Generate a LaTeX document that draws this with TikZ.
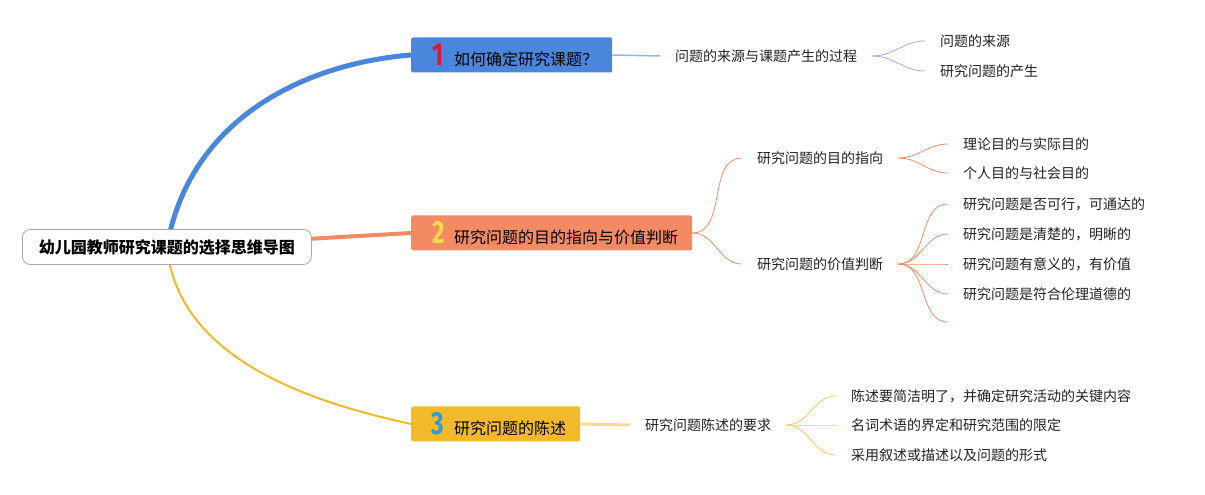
\documentclass[tikz,border=0pt]{standalone}
\usepackage{fontspec}
\setmainfont{Noto Sans CJK SC}
\newfontfamily\numfont{Fira Sans}
\usetikzlibrary{backgrounds}
\definecolor{topicblue}{HTML}{4A86DB}
\definecolor{topicorange}{HTML}{F28B63}
\definecolor{topicyellow}{HTML}{F2B92B}
\definecolor{lightblue}{HTML}{8FB4EA}
\definecolor{lightyellow}{HTML}{F8DA8A}
\definecolor{forkyellow}{HTML}{F5C85E}
\definecolor{numred}{HTML}{D8173B}
\definecolor{numyellow}{HTML}{F9D84A}
\definecolor{numblue}{HTML}{2D9CDB}
\definecolor{textgray}{HTML}{222222}
\newcommand{\topicnum}[2]{\makebox[12pt]{\textcolor{#1}{\scalebox{0.75}[1]{\numfont\bfseries\fontsize{32}{32}\selectfont #2}}}}

\begin{document}
\begin{tikzpicture}[x=1pt,y=1pt,
    rootbox/.style={draw=gray!70, line width=0.8pt, rounded corners=8pt, fill=white,
        minimum width=289pt, minimum height=35pt, inner sep=0pt,
        font=\bfseries\fontsize{16}{16}\selectfont, anchor=west},
    topicbox/.style={fill=#1, rounded corners=2pt, minimum height=35pt,
        inner xsep=14pt, inner ysep=0pt, font=\fontsize{16}{16}\selectfont, anchor=west},
    leaf/.style={inner xsep=15pt, inner ysep=2pt, text=textgray,
        font=\fontsize{14}{14}\selectfont, anchor=west},
    fork/.style={out=0, in=180}]

    \useasboundingbox (0,0) rectangle (1205,495);

    \coordinate (pr) at (22,248);
    \coordinate (p1) at (411,440);
    \coordinate (p2) at (411,262);
    \coordinate (p3) at (411,71);

    \node[rootbox] (root) at (pr) {幼儿园教师研究课题的选择思维导图};
    \node[topicbox=topicblue] (t1) at (p1)
        {\hspace{7pt}\topicnum{numred}{1}\hspace{10pt}如何确定研究课题？};
    \node[topicbox=topicorange] (t2) at (p2)
        {\hspace{7pt}\topicnum{numyellow}{2}\hspace{10pt}研究问题的目的指向与价值判断};
    \node[topicbox=topicyellow] (t3) at (p3)
        {\hspace{7pt}\topicnum{numblue}{3}\hspace{10pt}研究问题的陈述};

    % topic 1
    \node[leaf] (a) at (660,439) {问题的来源与课题产生的过程};
    \node[leaf] (a1) at (925,454) {问题的来源};
    \node[leaf] (a2) at (925,424) {研究问题的产生};

    % topic 2
    \node[leaf] (b) at (742,337) {研究问题的目的指向};
    \node[leaf] (b1) at (948,351) {理论目的与实际目的};
    \node[leaf] (b2) at (948,322) {个人目的与社会目的};
    \node[leaf] (c) at (742,231) {研究问题的价值判断};
    \node[leaf] (c1) at (948,291) {研究问题是否可行，可通达的};
    \node[leaf] (c2) at (948,261) {研究问题是清楚的，明晰的};
    \node[leaf] (c3) at (948,231) {研究问题有意义的，有价值};
    \node[leaf] (c4) at (948,201) {研究问题是符合伦理道德的};
    \coordinate (c5) at (948,173);

    % topic 3
    \node[leaf] (d) at (630,70) {研究问题陈述的要求};
    \node[leaf] (d1) at (836,99) {陈述要简洁明了，并确定研究活动的关键内容};
    \node[leaf] (d2) at (836,70) {名词术语的界定和研究范围的限定};
    \node[leaf] (d3) at (836,40) {采用叙述或描述以及问题的形式};

    \begin{scope}[on background layer]
        \draw[topicblue, line width=5pt]
            (root.center) .. controls (190,380) and (310,432) .. (t1.west);
        \draw[topicorange, line width=4pt] (root.center) -- (t2.west);
        \draw[topicyellow, line width=2pt]
            (root.center) .. controls (178,140) and (300,95) .. (t3.west);
    \end{scope}

    \draw[lightblue, line width=1.5pt] (t1.east) -- (a.west);
    \foreach \leafname in {a1,a2}
        \draw[lightblue, line width=0.8pt] (a.east) to[fork] (\leafname.west);

    \foreach \leafname in {b,c}
        \draw[topicorange, line width=0.8pt] (t2.east) to[fork] (\leafname.west);
    \foreach \leafname in {b1,b2}
        \draw[topicorange, line width=0.8pt] (b.east) to[fork] (\leafname.west);
    \foreach \leafname in {c1,c2,c3,c4}
        \draw[topicorange, line width=0.8pt] (c.east) to[fork] (\leafname.west);
    \draw[topicorange, line width=0.8pt] (c.east) to[fork] (c5);

    \draw[lightyellow, line width=3pt] (t3.east) -- (d.west);
    \foreach \leafname in {d1,d2,d3}
        \draw[forkyellow, line width=0.8pt] (d.east) to[fork] (\leafname.west);

\end{tikzpicture}
\end{document}
